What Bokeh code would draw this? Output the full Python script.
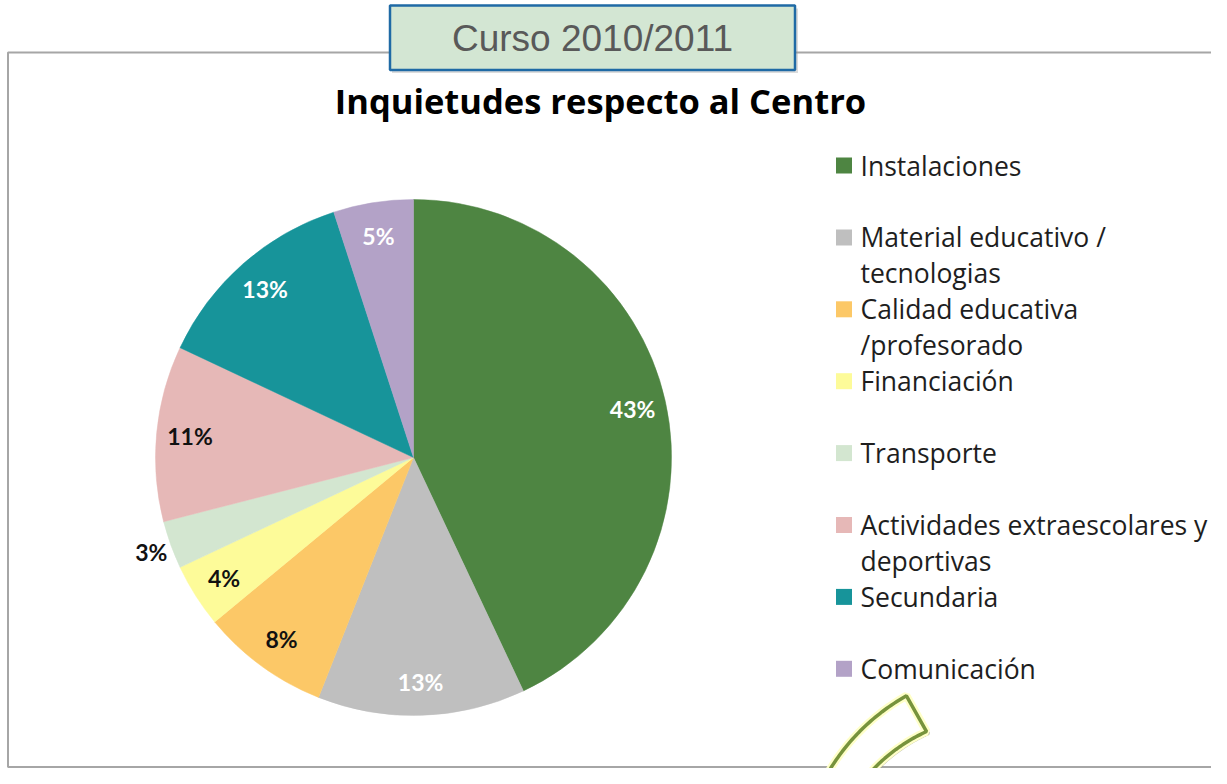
import numpy as np
from bokeh.plotting import figure
from bokeh.models import Range1d
from bokeh.core.properties import value
from bokeh.embed import file_html
from bokeh.resources import INLINE

# ---------------- data ----------------
categories = ["Instalaciones", "Material educativo / tecnologias", "Calidad educativa /profesorado",
              "Financiación", "Transporte", "Actividades extraescolares y deportivas",
              "Secundaria", "Comunicación"]
values = [43, 13, 8, 4, 3, 11, 13, 5]
colors = ["#4E8542", "#BFBFBF", "#FCC867", "#FDFB99", "#D3E6D0", "#E6B8B7", "#17949A", "#B3A2C7"]
label_colors = ["white", "white", "#111111", "#111111", "#111111", "#111111", "white", "white"]
legend_labels = ["Instalaciones", "Material educativo /\ntecnologias", "Calidad educativa\n/profesorado",
                 "Financiación", "Transporte", "Actividades extraescolares y\ndeportivas",
                 "Secundaria", "Comunicación"]
title_text = "Inquietudes respecto al Centro"
box_text = "Curso 2010/2011"

# ---------------- canvas ----------------
W, H = 1211, 768


def X(x):
    return x


def Y(y):
    return H - y


p = figure(width=W, height=H, x_range=Range1d(0, W), y_range=Range1d(0, H),
           x_axis_location=None, y_axis_location=None, toolbar_location=None,
           output_backend="svg", min_border=0)
p.outline_line_color = None
p.grid.visible = False
p.background_fill_color = "white"

# chart frame
p.line(x=[X(1215), X(7.5), X(7.5), X(1215)], y=[Y(52), Y(52), Y(766.5), Y(766.5)],
       line_color="#A6A6A6", line_width=2)

# ---------------- pie ----------------
cx, cy, R = X(413), Y(457), 258
vals = np.array(values, dtype=float)
frac = vals / vals.sum()
cum_end = np.cumsum(frac)
cum_start = cum_end - frac
start_angles = np.pi / 2 - 2 * np.pi * cum_end
end_angles = np.pi / 2 - 2 * np.pi * cum_start
p.wedge(x=cx, y=cy, radius=R, start_angle=start_angles, end_angle=end_angles,
        direction="anticlock", fill_color=colors, line_color=colors, line_width=0.5)

mid = (start_angles + end_angles) / 2
lr = np.where(vals < 4, 1.08 * R, 0.87 * R)
lx = cx + lr * np.cos(mid)
ly = cy + lr * np.sin(mid)
p.text(x=lx, y=ly, text=[f"{int(v)}%" for v in values], text_color=label_colors,
       text_font=value("Lato"), text_font_style="bold", text_font_size=value("23px"),
       text_align="center", text_baseline="middle")

# ---------------- legend ----------------
leg_x_sq = X(843.5)
leg_x_txt = X(860)
cap0 = 165
step = 71.9
line_h = 35.5
sq_x, sq_y, tx, ty, tt = [], [], [], [], []
for i, lab in enumerate(legend_labels):
    c = cap0 + step * i
    sq_x.append(leg_x_sq)
    sq_y.append(Y(c))
    for j, ln in enumerate(lab.split("\n")):
        tx.append(leg_x_txt)
        ty.append(Y(c + j * line_h))
        tt.append(ln)
p.rect(x=sq_x, y=sq_y, width=16, height=16, fill_color=colors, line_color=None)
p.text(x=tx, y=ty, text=tt, text_color="#1E1E1E", text_font=value("Open Sans"),
       text_font_size=value("26.5px"), text_align="left", text_baseline="middle")

# ---------------- title ----------------
p.text(x=[X(600)], y=[Y(100)], text=[title_text], text_color="black",
       text_font=value("Open Sans"), text_font_style="bold", text_font_size=value("34.5px"),
       text_align="center", text_baseline="middle")

# ---------------- box ----------------
p.quad(left=X(391.5), right=X(797.5), top=Y(8), bottom=Y(72.5), fill_color="#9A9A9A",
       fill_alpha=0.35, line_color=None)
p.quad(left=X(389.5), right=X(794.5), top=Y(5), bottom=Y(69.5), fill_color="#D3E6D3",
       line_color="#1F6AA5", line_width=2.5)
p.text(x=[X(592)], y=[Y(38)], text=[box_text], text_color="#595959",
       text_font=value("Liberation Sans"), text_font_size=value("37px"),
       text_align="center", text_baseline="middle")

# ---------------- decorative curved arrow ----------------
acx, acy = 1010, 880
t = np.linspace(np.radians(-119.4), np.radians(-150), 40)
r_out = np.full_like(t, 212.0)
r_in = np.linspace(171, 179, t.size)
ox = acx + r_out * np.cos(t)
oy = acy + r_out * np.sin(t)
ix = acx + r_in[::-1] * np.cos(t[::-1])
iy = acy + r_in[::-1] * np.sin(t[::-1])
ax = np.concatenate([ox, ix])
ay = np.concatenate([oy, iy])
p.patch(x=[X(v) + 2 for v in ax], y=[Y(v) - 2 for v in ay], fill_color=None,
        line_color="#8A8A70", line_alpha=0.6, line_width=3)
p.patch(x=[X(v) for v in ax], y=[Y(v) for v in ay], fill_color="white",
        line_color="#FFFFC8", line_width=8)
p.patch(x=[X(v) for v in ax], y=[Y(v) for v in ay], fill_color=None,
        line_color="#77933C", line_width=3.5)

open("out.html", "w").write(file_html(p, INLINE))
